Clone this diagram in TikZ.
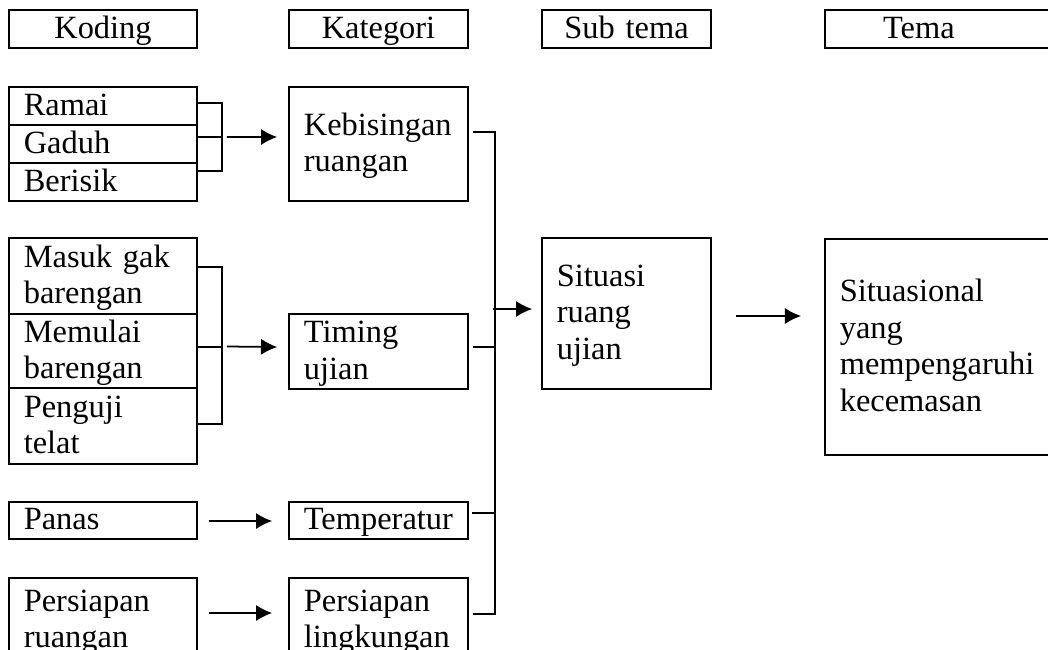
\documentclass[tikz,border=0pt]{standalone}
\usepackage{fontspec}
\setmainfont{Liberation Serif}
\usetikzlibrary{positioning,arrows.meta}
\hyphenpenalty=10000
% Penyangga baris: teks sedikit turun seperti aslinya
\newcommand{\linestrut}{\rule[-3.3pt]{0pt}{13.5pt}}

\begin{document}
\begin{tikzpicture}[
            % Satuan: 1 piksel gambar asli
            x=0.37pt, y=-0.37pt,
            % Gaya kotak dan garis
            box/.style={draw, line width=0.6pt, inner xsep=5.5pt, inner ysep=0pt, align=left,
                font=\fontsize{12}{13.5}\selectfont,
                execute at begin node={\linestrut}, execute at end node={\linestrut}},
            kode_box/.style={box, text width=58.6pt},
            kat_box/.style={box, text width=55.2pt},
            sub_box/.style={box, text width=51.5pt},
            tema_box/.style={box, text width=76pt},
            link/.style={line width=0.65pt},
            arrow_link/.style={link, -{Latex[length=6pt,width=6pt]}}
        ]

        \useasboundingbox (0,0) rectangle (1048,650);
        \clip (0,0) rectangle (1048,650);

        % ==============================
        % 0. JUDUL KOLOM
        % ==============================
        \node[kode_box, align=center, minimum height=14.06pt] (h_koding) at (103,29) {Koding};
        \node[kat_box, align=center, minimum height=14.06pt] (h_kategori) at (378.5,29) {Kategori};
        \node[sub_box, align=center, minimum height=14.06pt] (h_subtema) at (626.5,29) {Sub tema};
        \node[tema_box, minimum height=14.06pt] (h_tema) at (942.5,29) {\hspace*{16pt}Tema};

        % ==============================
        % 1. KODING
        % ==============================
        % Kelompok kebisingan
        \node[kode_box, minimum height=14.06pt] (ramai) at (103,106) {Ramai};
        \node[kode_box, minimum height=14.06pt, below=-0.6pt of ramai] (gaduh) {Gaduh};
        \node[kode_box, minimum height=14.06pt, below=-0.6pt of gaduh] (berisik) {Berisik};

        % Kelompok waktu
        \node[kode_box, minimum height=28.1pt] (masuk) at (103,276) {Masuk gak\\barengan};
        \node[kode_box, minimum height=27.4pt, below=-0.6pt of masuk] (memulai) {Memulai\\barengan};
        \node[kode_box, minimum height=28.1pt, below=-0.6pt of memulai] (penguji) {Penguji\\telat};

        \node[kode_box, minimum height=13.7pt] (panas) at (103,520.5) {Panas};
        \node[kode_box, minimum height=31pt] (ruangan) at (103,620) {Persiapan\\ruangan};

        % ==============================
        % 2. KATEGORI
        % ==============================
        \node[kat_box, minimum height=42.2pt] (kebisingan) at (378.5,144) {Kebisingan\\ruangan};
        \node[kat_box, minimum height=27.75pt] (timing) at (378.5,351.5) {Timing\\ujian};
        \node[kat_box, minimum height=13.7pt] (temperatur) at (378.5,520.5) {Temperatur};
        \node[kat_box, minimum height=31pt] (lingkungan) at (378.5,620) {Persiapan\\lingkungan};

        % ==============================
        % 3. SUB TEMA DAN TEMA
        % ==============================
        \node[sub_box, minimum height=55.9pt] (situasi) at (626.5,313.5) {Situasi\\ruang\\ujian};
        \node[tema_box, minimum height=79.9pt] (situasional) at (942.5,347) {Situasional\\yang\\mempengaruhi\\kecemasan};

        % Kurung koding -> kategori
        \draw[link] ([shift={(0,-3)}]ramai.east) -| ([shift={(24,-11)}]berisik.east) -- ([shift={(0,-11)}]berisik.east);
        \draw[link] ([shift={(0,-7)}]gaduh.east) -- ++(24,0);
        \draw[arrow_link] ([shift={(29,-7)}]gaduh.east) -- ([shift={(-11,-7)}]kebisingan.west);

        \draw[link] ([shift={(0,-9)}]masuk.east) -| ([shift={(24,-2)}]penguji.east) -- ([shift={(0,-2)}]penguji.east);
        \draw[link] ([shift={(0,-4)}]memulai.east) -- ++(24,0);
        \draw[arrow_link] ([shift={(29,-4.5)}]memulai.east) -- ([shift={(-11,-4.5)}]timing.west);

        \draw[arrow_link] ([shift={(11,0.5)}]panas.east) -- ([shift={(-16,0.5)}]temperatur.west);
        \draw[arrow_link] ([shift={(11,-7)}]ruangan.east) -- ([shift={(-16,-7)}]lingkungan.west);

        % Kurung kategori -> sub tema
        \draw[link] ([shift={(4,-12)}]kebisingan.east) -| ([shift={(26,-6)}]lingkungan.east) -- ([shift={(4,-6)}]lingkungan.east);
        \draw[link] ([shift={(4,-4.5)}]timing.east) -- ++(22,0);
        \draw[link] ([shift={(3,-7.5)}]temperatur.east) -- ++(23,0);
        \draw[arrow_link] ([shift={(-48,-4.5)}]situasi.west) -- ([shift={(-9,-4.5)}]situasi.west);

        % Sub tema -> tema
        \draw[arrow_link] ([shift={(24,2.5)}]situasi.east) -- ([shift={(-23,-31)}]situasional.west);

        \end{tikzpicture}
\end{document}
